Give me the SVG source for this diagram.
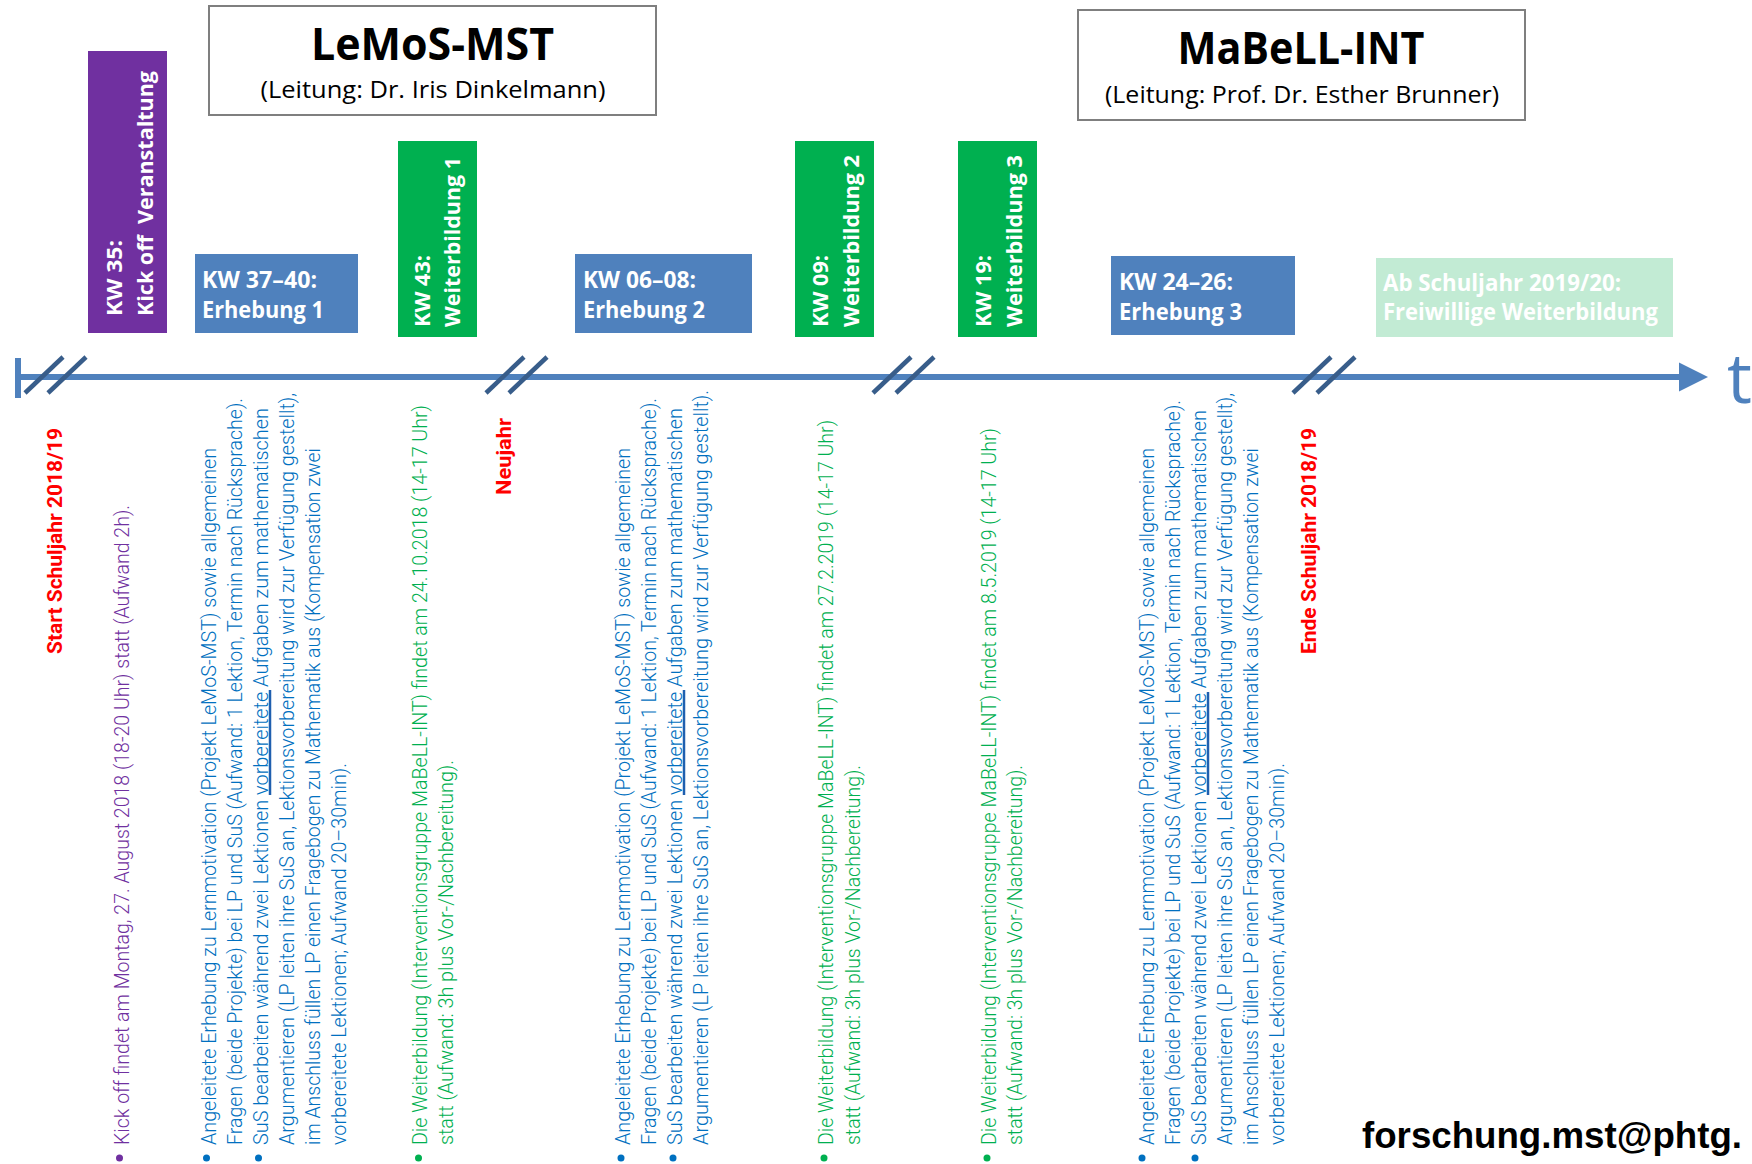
<svg xmlns="http://www.w3.org/2000/svg" width="1752" height="1164" viewBox="0 0 1752 1164">
<style>
.title{font-family:"Open Sans","Liberation Sans",sans-serif;font-weight:700;font-size:44px;fill:#000;text-anchor:middle}
.sub{font-family:"Open Sans","Liberation Sans",sans-serif;font-size:24px;fill:#000;text-anchor:middle}
.tbox{fill:#fff;stroke:#7F7F7F;stroke-width:2}
.vbox{font-family:"Open Sans","Liberation Sans",sans-serif;font-weight:700;font-size:22px;fill:#fff}
.hbox{font-family:"Open Sans","Liberation Sans",sans-serif;font-weight:700;font-size:23px;fill:#fff}
.desc{font-family:Roboto,"Liberation Sans",sans-serif;font-weight:300;font-size:21px}
.red{font-family:Roboto,"Liberation Sans",sans-serif;font-weight:700;font-size:21px;fill:#FF0000}
.pu{fill:#7030A0}
.bl{fill:#0070C0}
.gr{fill:#00B050}
.brk{stroke:#385D8A;stroke-width:4.5}
.ul{stroke:#1F5FAF;stroke-width:2.5}
</style>

<g id="connectors">
  <line x1="18" y1="358" x2="18" y2="398" stroke="#4F81BD" stroke-width="6"/>
  <line x1="18" y1="377" x2="1682" y2="377" stroke="#4F81BD" stroke-width="6"/>
  <polygon points="1679,362.5 1708,377 1679,391.5" fill="#4F81BD"/>
  <g class="brk">
    <line x1="25" y1="393" x2="63" y2="357"/><line x1="48" y1="393" x2="86" y2="357"/>
    <line x1="486" y1="393" x2="524" y2="357"/><line x1="509" y1="393" x2="547" y2="357"/>
    <line x1="873" y1="393" x2="911" y2="357"/><line x1="896" y1="393" x2="934" y2="357"/>
    <line x1="1293" y1="393" x2="1331" y2="357"/><line x1="1317" y1="393" x2="1355" y2="357"/>
  </g>
  <text x="1727" y="403" font-family="Open Sans, Liberation Sans, sans-serif" font-size="70" fill="#4F81BD">t</text>
</g>

<g id="lemos-title">
  <rect class="tbox" x="209" y="6" width="447" height="109"/>
  <text class="title" x="432.5" y="60" textLength="243" lengthAdjust="spacingAndGlyphs">LeMoS-MST</text>
  <text class="sub" x="433" y="98" textLength="345" lengthAdjust="spacingAndGlyphs">(Leitung: Dr. Iris Dinkelmann)</text>
</g>

<g id="mabell-title">
  <rect class="tbox" x="1078" y="10" width="447" height="110"/>
  <text class="title" x="1301" y="64" textLength="247" lengthAdjust="spacingAndGlyphs">MaBeLL-INT</text>
  <text class="sub" x="1302" y="103" textLength="394" lengthAdjust="spacingAndGlyphs">(Leitung: Prof. Dr. Esther Brunner)</text>
</g>

<g id="kw35">
  <rect x="88" y="51" width="79" height="282" fill="#7030A0"/>
  <text class="vbox" transform="translate(121.5 316) rotate(-90)" textLength="76" lengthAdjust="spacingAndGlyphs">KW 35:</text>
  <text class="vbox" transform="translate(152.5 316) rotate(-90)" textLength="245" lengthAdjust="spacingAndGlyphs" xml:space="preserve">Kick off  Veranstaltung</text>
</g>

<g id="kw37-40">
  <rect x="195" y="254" width="163" height="79" fill="#4F81BD"/>
  <text class="hbox" x="202" y="288" textLength="115" lengthAdjust="spacingAndGlyphs">KW 37–40:</text>
  <text class="hbox" x="202" y="318" textLength="122" lengthAdjust="spacingAndGlyphs">Erhebung 1</text>
</g>

<g id="kw43">
  <rect x="398" y="141" width="79" height="196" fill="#00B050"/>
  <text class="vbox" transform="translate(430 327) rotate(-90)" textLength="72" lengthAdjust="spacingAndGlyphs">KW 43:</text>
  <text class="vbox" transform="translate(460 327) rotate(-90)" textLength="170" lengthAdjust="spacingAndGlyphs">Weiterbildung 1</text>
</g>

<g id="kw06-08">
  <rect x="575" y="254" width="177" height="79" fill="#4F81BD"/>
  <text class="hbox" x="583" y="288" textLength="113" lengthAdjust="spacingAndGlyphs">KW 06–08:</text>
  <text class="hbox" x="583" y="318" textLength="122" lengthAdjust="spacingAndGlyphs">Erhebung 2</text>
</g>

<g id="kw09">
  <rect x="795" y="141" width="79" height="196" fill="#00B050"/>
  <text class="vbox" transform="translate(828 327) rotate(-90)" textLength="72" lengthAdjust="spacingAndGlyphs">KW 09:</text>
  <text class="vbox" transform="translate(859 327) rotate(-90)" textLength="172" lengthAdjust="spacingAndGlyphs">Weiterbildung 2</text>
</g>

<g id="kw19">
  <rect x="958" y="141" width="79" height="196" fill="#00B050"/>
  <text class="vbox" transform="translate(991 327) rotate(-90)" textLength="72" lengthAdjust="spacingAndGlyphs">KW 19:</text>
  <text class="vbox" transform="translate(1022 327) rotate(-90)" textLength="172" lengthAdjust="spacingAndGlyphs">Weiterbildung 3</text>
</g>

<g id="kw24-26">
  <rect x="1111" y="256" width="184" height="79" fill="#4F81BD"/>
  <text class="hbox" x="1119" y="289.5" textLength="114" lengthAdjust="spacingAndGlyphs">KW 24–26:</text>
  <text class="hbox" x="1119" y="319.5" textLength="123" lengthAdjust="spacingAndGlyphs">Erhebung 3</text>
</g>

<g id="ab-schuljahr">
  <rect x="1376" y="258" width="297" height="79" fill="#C2EBD4"/>
  <text class="hbox" x="1383" y="291" textLength="238" lengthAdjust="spacingAndGlyphs">Ab Schuljahr 2019/20:</text>
  <text class="hbox" x="1383" y="320" textLength="275" lengthAdjust="spacingAndGlyphs">Freiwillige Weiterbildung</text>
</g>

<g id="markers">
  <text class="red" transform="translate(61.5 654) rotate(-90)" textLength="226" lengthAdjust="spacingAndGlyphs">Start Schuljahr 2018/19</text>
  <text class="red" transform="translate(510.5 495) rotate(-90)" textLength="77" lengthAdjust="spacingAndGlyphs">Neujahr</text>
  <text class="red" transform="translate(1316 654) rotate(-90)" textLength="226" lengthAdjust="spacingAndGlyphs">Ende Schuljahr 2018/19</text>
</g>

<g id="desc-kickoff">
  <circle cx="119.5" cy="1158" r="3.5" class="pu"/>
  <text class="desc pu" transform="translate(128.5 1145) rotate(-90)" textLength="640" lengthAdjust="spacingAndGlyphs">Kick off findet am Montag, 27. August 2018 (18-20 Uhr) statt (Aufwand 2h).</text>
</g>

<g id="desc-erhebung1">
  <circle cx="206.5" cy="1158" r="3.5" class="bl"/>
  <circle cx="258.5" cy="1158" r="3.5" class="bl"/>
  <text class="desc bl" transform="translate(216 1145) rotate(-90)" textLength="697" lengthAdjust="spacingAndGlyphs">Angeleitete Erhebung zu Lernmotivation (Projekt LeMoS-MST) sowie allgemeinen</text>
  <text class="desc bl" transform="translate(242 1145) rotate(-90)" textLength="747" lengthAdjust="spacingAndGlyphs">Fragen (beide Projekte) bei LP und SuS (Aufwand: 1 Lektion, Termin nach Rücksprache).</text>
  <text class="desc bl" transform="translate(268 1145) rotate(-90)" textLength="737" lengthAdjust="spacingAndGlyphs">SuS bearbeiten während zwei Lektionen vorbereitete Aufgaben zum mathematischen</text>
  <text class="desc bl" transform="translate(294 1145) rotate(-90)" textLength="752" lengthAdjust="spacingAndGlyphs">Argumentieren (LP leiten ihre SuS an, Lektionsvorbereitung wird zur Verfügung gestellt),</text>
  <text class="desc bl" transform="translate(320 1145) rotate(-90)" textLength="697" lengthAdjust="spacingAndGlyphs">im Anschluss füllen LP einen Fragebogen zu Mathematik aus (Kompensation zwei</text>
  <text class="desc bl" transform="translate(346 1145) rotate(-90)" textLength="382" lengthAdjust="spacingAndGlyphs">vorbereitete Lektionen; Aufwand 20–30min).</text>
  <line class="ul" x1="270" y1="690" x2="270" y2="795"/>
</g>

<g id="desc-weiterbildung1">
  <circle cx="418.5" cy="1158" r="3.5" class="gr"/>
  <text class="desc gr" transform="translate(427 1145) rotate(-90)" textLength="740" lengthAdjust="spacingAndGlyphs">Die Weiterbildung (Interventionsgruppe MaBeLL-INT) findet am 24.10.2018 (14-17 Uhr)</text>
  <text class="desc gr" transform="translate(453 1145) rotate(-90)" textLength="385" lengthAdjust="spacingAndGlyphs">statt (Aufwand: 3h plus Vor-/Nachbereitung).</text>
</g>

<g id="desc-erhebung2">
  <circle cx="621" cy="1158" r="3.5" class="bl"/>
  <circle cx="673" cy="1158" r="3.5" class="bl"/>
  <text class="desc bl" transform="translate(630 1145) rotate(-90)" textLength="697" lengthAdjust="spacingAndGlyphs">Angeleitete Erhebung zu Lernmotivation (Projekt LeMoS-MST) sowie allgemeinen</text>
  <text class="desc bl" transform="translate(656 1145) rotate(-90)" textLength="747" lengthAdjust="spacingAndGlyphs">Fragen (beide Projekte) bei LP und SuS (Aufwand: 1 Lektion, Termin nach Rücksprache).</text>
  <text class="desc bl" transform="translate(682 1145) rotate(-90)" textLength="737" lengthAdjust="spacingAndGlyphs">SuS bearbeiten während zwei Lektionen vorbereitete Aufgaben zum mathematischen</text>
  <text class="desc bl" transform="translate(708 1145) rotate(-90)" textLength="755" lengthAdjust="spacingAndGlyphs">Argumentieren (LP leiten ihre SuS an, Lektionsvorbereitung wird zur Verfügung gestellt).</text>
  <line class="ul" x1="684" y1="690" x2="684" y2="795"/>
</g>

<g id="desc-weiterbildung2">
  <circle cx="824" cy="1158" r="3.5" class="gr"/>
  <text class="desc gr" transform="translate(833 1145) rotate(-90)" textLength="725" lengthAdjust="spacingAndGlyphs">Die Weiterbildung (Interventionsgruppe MaBeLL-INT) findet am 27.2.2019 (14-17 Uhr)</text>
  <text class="desc gr" transform="translate(860 1145) rotate(-90)" textLength="380" lengthAdjust="spacingAndGlyphs">statt (Aufwand: 3h plus Vor-/Nachbereitung).</text>
</g>

<g id="desc-weiterbildung3">
  <circle cx="987" cy="1158" r="3.5" class="gr"/>
  <text class="desc gr" transform="translate(996 1145) rotate(-90)" textLength="717" lengthAdjust="spacingAndGlyphs">Die Weiterbildung (Interventionsgruppe MaBeLL-INT) findet am 8.5.2019 (14-17 Uhr)</text>
  <text class="desc gr" transform="translate(1022 1145) rotate(-90)" textLength="380" lengthAdjust="spacingAndGlyphs">statt (Aufwand: 3h plus Vor-/Nachbereitung).</text>
</g>

<g id="desc-erhebung3">
  <circle cx="1142" cy="1158" r="3.5" class="bl"/>
  <circle cx="1195" cy="1158" r="3.5" class="bl"/>
  <text class="desc bl" transform="translate(1154 1145) rotate(-90)" textLength="697" lengthAdjust="spacingAndGlyphs">Angeleitete Erhebung zu Lernmotivation (Projekt LeMoS-MST) sowie allgemeinen</text>
  <text class="desc bl" transform="translate(1180 1145) rotate(-90)" textLength="745" lengthAdjust="spacingAndGlyphs">Fragen (beide Projekte) bei LP und SuS (Aufwand: 1 Lektion, Termin nach Rücksprache).</text>
  <text class="desc bl" transform="translate(1206 1145) rotate(-90)" textLength="735" lengthAdjust="spacingAndGlyphs">SuS bearbeiten während zwei Lektionen vorbereitete Aufgaben zum mathematischen</text>
  <text class="desc bl" transform="translate(1232 1145) rotate(-90)" textLength="752" lengthAdjust="spacingAndGlyphs">Argumentieren (LP leiten ihre SuS an, Lektionsvorbereitung wird zur Verfügung gestellt),</text>
  <text class="desc bl" transform="translate(1258 1145) rotate(-90)" textLength="697" lengthAdjust="spacingAndGlyphs">im Anschluss füllen LP einen Fragebogen zu Mathematik aus (Kompensation zwei</text>
  <text class="desc bl" transform="translate(1284 1145) rotate(-90)" textLength="382" lengthAdjust="spacingAndGlyphs">vorbereitete Lektionen; Aufwand 20–30min).</text>
  <line class="ul" x1="1208" y1="692" x2="1208" y2="795"/>
</g>

<g id="email">
  <text x="1362" y="1148" font-family="Liberation Sans, Arial, sans-serif" font-weight="700" font-size="37" fill="#000" textLength="380" lengthAdjust="spacingAndGlyphs">forschung.mst@phtg.</text>
</g>
</svg>
